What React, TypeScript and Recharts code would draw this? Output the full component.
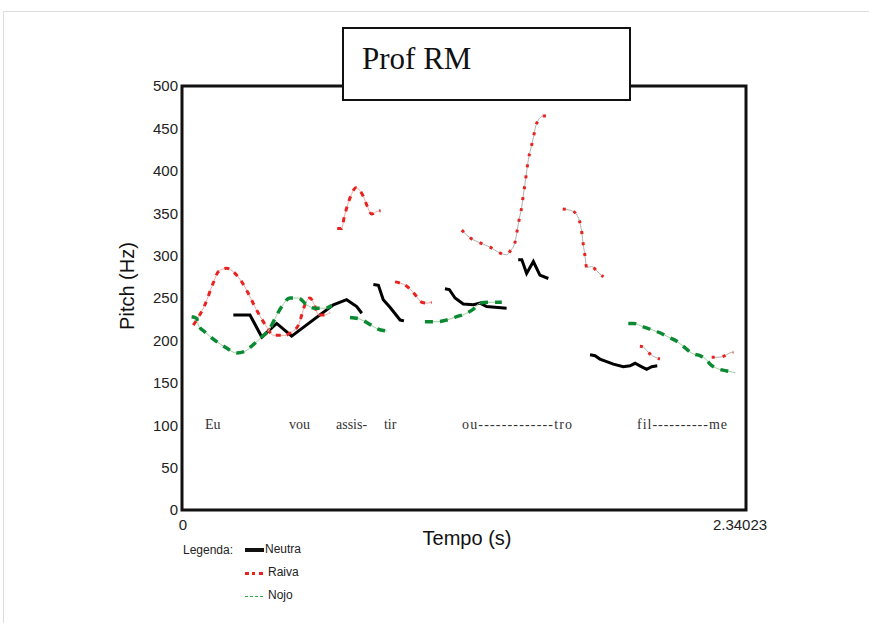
import React from "react";
import {
  LineChart,
  Line,
  XAxis,
  YAxis,
  ReferenceArea,
  ReferenceDot,
} from "recharts";

type Pt = { t: number; hz: number };

const T_MAX = 2.34023;
const yTicks = [0, 50, 100, 150, 200, 250, 300, 350, 400, 450, 500];
const xTicks = [0, T_MAX];

// Neutra (solid black)
const neutra1: Pt[] = [
  { t: 0.213, hz: 230 }, { t: 0.282, hz: 230 }, { t: 0.331, hz: 204 },
  { t: 0.393, hz: 220 }, { t: 0.455, hz: 205 }, { t: 0.628, hz: 242 },
  { t: 0.683, hz: 248 }, { t: 0.725, hz: 240 }, { t: 0.746, hz: 232 },
];
const neutra2: Pt[] = [
  { t: 0.794, hz: 266 }, { t: 0.815, hz: 265 }, { t: 0.835, hz: 248 },
  { t: 0.863, hz: 239 }, { t: 0.905, hz: 224 }, { t: 0.921, hz: 223 },
];
const neutra3: Pt[] = [
  { t: 1.091, hz: 261 }, { t: 1.109, hz: 260 }, { t: 1.133, hz: 250 },
  { t: 1.167, hz: 243 }, { t: 1.209, hz: 242 }, { t: 1.237, hz: 244 },
  { t: 1.264, hz: 240 }, { t: 1.347, hz: 238 },
];
const neutra4: Pt[] = [
  { t: 1.395, hz: 295 }, { t: 1.41, hz: 295 }, { t: 1.43, hz: 279 },
  { t: 1.458, hz: 293 }, { t: 1.485, hz: 277 }, { t: 1.52, hz: 273 },
];
const neutra5: Pt[] = [
  { t: 1.693, hz: 183 }, { t: 1.714, hz: 182 }, { t: 1.734, hz: 178 },
  { t: 1.762, hz: 175 }, { t: 1.79, hz: 172 }, { t: 1.831, hz: 169 },
  { t: 1.859, hz: 170 }, { t: 1.88, hz: 173 }, { t: 1.9, hz: 170 },
  { t: 1.928, hz: 166 }, { t: 1.949, hz: 169 }, { t: 1.972, hz: 170 },
];

// Raiva (red dotted)
const raiva1: Pt[] = [
  { t: 0.047, hz: 218 }, { t: 0.095, hz: 242 }, { t: 0.13, hz: 268 },
  { t: 0.151, hz: 281 }, { t: 0.185, hz: 285 }, { t: 0.22, hz: 279 },
  { t: 0.248, hz: 269 }, { t: 0.317, hz: 232 }, { t: 0.351, hz: 216 },
  { t: 0.379, hz: 206 }, { t: 0.427, hz: 206 }, { t: 0.455, hz: 210 },
  { t: 0.483, hz: 218 }, { t: 0.497, hz: 230 }, { t: 0.51, hz: 242 },
  { t: 0.531, hz: 250 }, { t: 0.549, hz: 242 }, { t: 0.566, hz: 230 },
  { t: 0.593, hz: 230 }, { t: 0.614, hz: 233 },
];
const raiva2: Pt[] = [
  { t: 0.644, hz: 332 }, { t: 0.663, hz: 332 }, { t: 0.672, hz: 344 },
  { t: 0.683, hz: 356 }, { t: 0.7, hz: 370 }, { t: 0.722, hz: 380 },
  { t: 0.752, hz: 370 }, { t: 0.769, hz: 358 }, { t: 0.787, hz: 349 },
  { t: 0.808, hz: 352 }, { t: 0.824, hz: 353 },
];
const raiva3: Pt[] = [
  { t: 0.884, hz: 269 }, { t: 0.932, hz: 264 }, { t: 0.967, hz: 254 },
  { t: 0.995, hz: 245 }, { t: 1.015, hz: 244 }, { t: 1.036, hz: 245 },
];
const raiva4: Pt[] = [
  { t: 1.161, hz: 330 }, { t: 1.195, hz: 321 }, { t: 1.237, hz: 315 },
  { t: 1.278, hz: 310 }, { t: 1.32, hz: 303 }, { t: 1.347, hz: 301 },
  { t: 1.361, hz: 305 }, { t: 1.382, hz: 316 }, { t: 1.391, hz: 330 },
  { t: 1.4, hz: 344 }, { t: 1.41, hz: 358 }, { t: 1.416, hz: 371 },
  { t: 1.423, hz: 384 }, { t: 1.43, hz: 399 }, { t: 1.437, hz: 413 },
  { t: 1.447, hz: 426 }, { t: 1.458, hz: 439 }, { t: 1.468, hz: 453 },
  { t: 1.493, hz: 464 }, { t: 1.51, hz: 465 },
];
const raiva5: Pt[] = [
  { t: 1.58, hz: 355 }, { t: 1.624, hz: 352 }, { t: 1.649, hz: 341 },
  { t: 1.659, hz: 327 }, { t: 1.665, hz: 313 }, { t: 1.672, hz: 300 },
  { t: 1.679, hz: 286 }, { t: 1.7, hz: 287 }, { t: 1.721, hz: 282 },
  { t: 1.748, hz: 275 },
];
const raiva6: Pt[] = [
  { t: 1.9, hz: 193 }, { t: 1.914, hz: 192 }, { t: 1.942, hz: 184 },
  { t: 1.983, hz: 178 },
];
const raiva7: Pt[] = [
  { t: 2.198, hz: 180 }, { t: 2.219, hz: 180 }, { t: 2.253, hz: 182 },
  { t: 2.271, hz: 185 }, { t: 2.288, hz: 186 },
];

// Nojo (green dashed)
const nojo1: Pt[] = [
  { t: 0.04, hz: 228 }, { t: 0.061, hz: 226 }, { t: 0.068, hz: 218 },
  { t: 0.095, hz: 210 }, { t: 0.137, hz: 200 }, { t: 0.185, hz: 191 },
  { t: 0.227, hz: 185 }, { t: 0.261, hz: 187 }, { t: 0.296, hz: 195 },
  { t: 0.331, hz: 204 }, { t: 0.365, hz: 214 }, { t: 0.386, hz: 226 },
  { t: 0.414, hz: 240 }, { t: 0.448, hz: 250 }, { t: 0.483, hz: 250 },
  { t: 0.517, hz: 242 }, { t: 0.552, hz: 238 }, { t: 0.593, hz: 238 },
  { t: 0.621, hz: 241 },
];
const nojo2: Pt[] = [
  { t: 0.697, hz: 227 }, { t: 0.739, hz: 225 }, { t: 0.773, hz: 220 },
  { t: 0.808, hz: 214 }, { t: 0.849, hz: 211 },
];
const nojo3: Pt[] = [
  { t: 1.008, hz: 222 }, { t: 1.057, hz: 222 }, { t: 1.098, hz: 224 },
  { t: 1.14, hz: 228 }, { t: 1.181, hz: 232 }, { t: 1.209, hz: 237 },
  { t: 1.237, hz: 244 }, { t: 1.278, hz: 245 }, { t: 1.327, hz: 245 },
];
const nojo4: Pt[] = [
  { t: 1.852, hz: 220 }, { t: 1.873, hz: 220 }, { t: 1.914, hz: 216 },
  { t: 1.956, hz: 212 }, { t: 1.983, hz: 209 }, { t: 2.025, hz: 203 },
  { t: 2.053, hz: 199 }, { t: 2.08, hz: 193 }, { t: 2.122, hz: 184 },
  { t: 2.149, hz: 182 }, { t: 2.177, hz: 177 }, { t: 2.191, hz: 172 },
  { t: 2.219, hz: 167 }, { t: 2.26, hz: 164 }, { t: 2.295, hz: 162 },
];

const neutraSegs = [neutra1, neutra2, neutra3, neutra4, neutra5];
const raivaSegs = [raiva1, raiva2, raiva3, raiva4, raiva5, raiva6, raiva7];
const nojoSegs = [nojo1, nojo2, nojo3, nojo4];

// syllables written under the contours
const syllables = ["Eu", "vou", "assis-", "tir", "ou-------------tro", "fil----------me"];
const syllableTimes = [0.095, 0.444, 0.639, 0.838, 1.162, 1.888];
const syllableWidths = [0, 0, 0, 0, 110, 90];
const SYLLABLE_HZ = 102;

const sans = "'Liberation Sans', Arial, sans-serif";
const serif = "'Liberation Serif', 'Times New Roman', serif";

const XTick = (props: any) => {
  const { x, y, payload } = props;
  const last = payload.value !== 0;
  return (
    <text
      x={last ? x - 6 : x + 1}
      y={y + 12}
      textAnchor="middle"
      fontSize={15}
      fill="#222"
      fontFamily={sans}
    >
      {last ? String(T_MAX) : "0"}
    </text>
  );
};

export default function App() {
  return (
    <div
      style={{
        position: "absolute",
        left: 0,
        top: 0,
        width: 869,
        height: 623,
        background: "#fff",
        overflow: "hidden",
        fontFamily: sans,
      }}
    >
      <div
        style={{
          position: "absolute",
          left: 3,
          top: 11,
          width: 900,
          height: 700,
          border: "1px solid #ddd",
        }}
      />
      <LineChart
        width={869}
        height={623}
        margin={{ top: 86, right: 123, bottom: 83, left: 122 }}
        style={{ position: "absolute", left: 0, top: 0 }}
      >
        <XAxis
          dataKey="t"
          type="number"
          domain={[0, T_MAX]}
          ticks={xTicks}
          axisLine={false}
          tickLine={false}
          height={30}
          tick={<XTick />}
          allowDuplicatedCategory={false}
        />
        <YAxis
          type="number"
          domain={[0, 500]}
          ticks={yTicks}
          axisLine={false}
          tickLine={false}
          width={60}
          tickMargin={-2}
          tick={{ fontSize: 15, fill: "#222", fontFamily: sans }}
        />
        <ReferenceArea
          x1={0}
          x2={T_MAX}
          y1={0}
          y2={500}
          fill="none"
          stroke="#111"
          strokeWidth={3}
          fillOpacity={0}
          strokeOpacity={1}
        />
        {neutraSegs.map((seg, i) => (
          <Line
            key={"n" + i}
            data={seg}
            dataKey="hz"
            type="linear"
            stroke="#000"
            strokeWidth={3}
            dot={false}
            isAnimationActive={false}
          />
        ))}
        {raivaSegs.map((seg, i) => (
          <Line
            key={"rb" + i}
            data={seg}
            dataKey="hz"
            type="monotone"
            stroke={i < 3 ? "#f0a8a8" : "#b0b0b0"}
            strokeWidth={1}
            dot={false}
            isAnimationActive={false}
          />
        ))}
        {raivaSegs.map((seg, i) => (
          <Line
            key={"r" + i}
            data={seg}
            dataKey="hz"
            type="monotone"
            stroke="#e8231f"
            strokeWidth={3}
            strokeDasharray={i < 3 ? "5 6" : "3 8"}
            dot={false}
            isAnimationActive={false}
          />
        ))}
        {nojoSegs.map((seg, i) => (
          <Line
            key={"gb" + i}
            data={seg}
            dataKey="hz"
            type="monotone"
            stroke="#9fcf9f"
            strokeWidth={1}
            dot={false}
            isAnimationActive={false}
          />
        ))}
        {nojoSegs.map((seg, i) => (
          <Line
            key={"g" + i}
            data={seg}
            dataKey="hz"
            type="monotone"
            stroke="#0b8a33"
            strokeWidth={3.5}
            strokeDasharray="8 7"
            dot={false}
            isAnimationActive={false}
          />
        ))}
        {syllables.map((s, i) => (
          <ReferenceDot
            key={"s" + i}
            x={syllableTimes[i]}
            y={SYLLABLE_HZ}
            r={0}
            fill="none"
            stroke="none"
            label={(p: any) => {
              const vb = p.viewBox || {};
              return (
                <text
                  x={vb.x}
                  y={(vb.y ?? 0) + 5}
                  fontFamily={serif}
                  fontSize={14}
                  fill="#333"
                  textAnchor="start"
                  {...(syllableWidths[i] ? { textLength: syllableWidths[i], lengthAdjust: "spacing" } : {})}
                >
                  {s}
                </text>
              );
            }}
          />
        ))}
      </LineChart>

      {/* axis titles */}
      <div
        style={{
          position: "absolute",
          left: 127,
          top: 286,
          transform: "translate(-50%, -50%) rotate(-90deg)",
          fontSize: 20,
          color: "#111",
          whiteSpace: "nowrap",
        }}
      >
        Pitch (Hz)
      </div>
      <div
        style={{
          position: "absolute",
          left: 467,
          top: 538,
          transform: "translate(-50%, -50%)",
          fontSize: 20,
          color: "#111",
          whiteSpace: "nowrap",
        }}
      >
        Tempo (s)
      </div>

      {/* title box */}
      <div
        style={{
          position: "absolute",
          left: 342,
          top: 27,
          width: 285,
          height: 70,
          border: "2px solid #111",
          background: "#fff",
        }}
      >
        <div
          style={{
            position: "absolute",
            left: 18,
            top: 12,
            fontFamily: serif,
            fontSize: 31,
            color: "#111",
          }}
        >
          Prof RM
        </div>
      </div>

      {/* legend */}
      <div style={{ position: "absolute", left: 183, top: 543, fontSize: 12, color: "#222" }}>
        Legenda:
      </div>
      <div style={{ position: "absolute", left: 245, top: 548, width: 19, height: 4, background: "#111" }} />
      <div style={{ position: "absolute", left: 265, top: 542, fontSize: 12, color: "#222" }}>Neutra</div>
      <div
        style={{
          position: "absolute",
          left: 245,
          top: 572,
          width: 18,
          height: 0,
          borderTop: "3px dotted #e8231f",
        }}
      />
      <div style={{ position: "absolute", left: 268, top: 565, fontSize: 12, color: "#222" }}>Raiva</div>
      <div
        style={{
          position: "absolute",
          left: 245,
          top: 596,
          width: 18,
          height: 0,
          borderTop: "1px dashed #2aa84a",
        }}
      />
      <div style={{ position: "absolute", left: 268, top: 588, fontSize: 12, color: "#222" }}>Nojo</div>
    </div>
  );
}
